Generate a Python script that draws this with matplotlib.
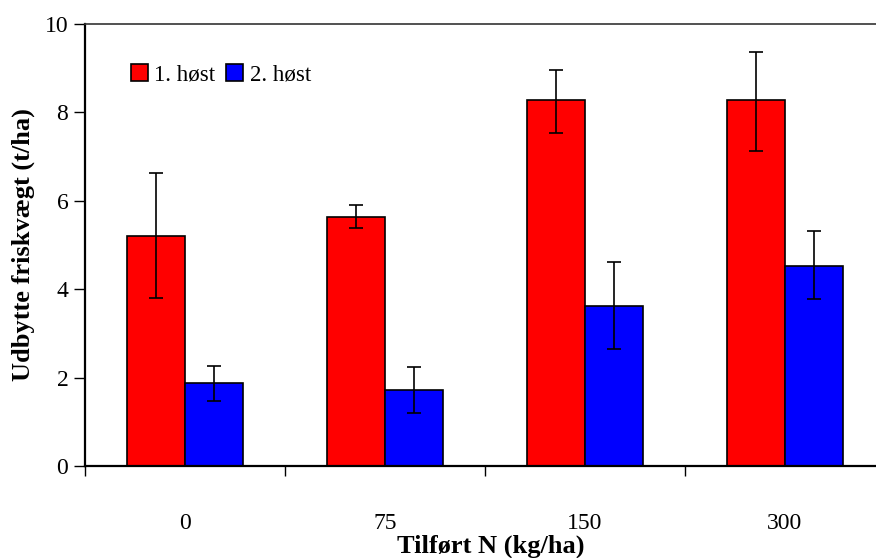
import matplotlib.pyplot as plt
import numpy as np

# Data
doses = ['0', '75', '150', '300']
harvest1 = [5.20, 5.64, 8.28, 8.28]
harvest1_err_hi = [6.63, 5.90, 8.97, 9.37]
harvest1_err_lo = [3.80, 5.38, 7.54, 7.13]
harvest2 = [1.87, 1.72, 3.63, 4.53]
harvest2_err_hi = [2.27, 2.23, 4.62, 5.32]
harvest2_err_lo = [1.46, 1.21, 2.64, 3.77]

plt.rcParams['font.family'] = ['Liberation Serif', 'DejaVu Serif']

fig = plt.figure(figsize=(8.76, 5.58), dpi=100)
ax = fig.add_axes([85 / 876, 1 - 466 / 558, 1 - 85 / 876, (466 - 24) / 558])

x = np.arange(len(doses))
w = 0.29

h1 = np.array(harvest1)
h2 = np.array(harvest2)
err1 = [h1 - np.array(harvest1_err_lo), np.array(harvest1_err_hi) - h1]
err2 = [h2 - np.array(harvest2_err_lo), np.array(harvest2_err_hi) - h2]

ax.bar(x - w / 2, h1, w, color='#ff0000', edgecolor='black', linewidth=1.2,
       label='1. høst', zorder=2)
ax.bar(x + w / 2, h2, w, color='#0000ff', edgecolor='black', linewidth=1.2,
       label='2. høst', zorder=2)
ax.errorbar(x - w / 2, h1, yerr=err1, fmt='none', ecolor='black',
            elinewidth=1.2, capsize=5, capthick=1.2, zorder=3)
ax.errorbar(x + w / 2, h2, yerr=err2, fmt='none', ecolor='black',
            elinewidth=1.2, capsize=5, capthick=1.2, zorder=3)

ax.set_xlim(-0.5, -0.5 + (876 - 85) / 200)
ax.set_ylim(0, 10)
ax.set_yticks([0, 2, 4, 6, 8, 10])

# category boundaries as major ticks, labels as minor ticks at the centres
ax.set_xticks([-0.5, 0.5, 1.5, 2.5])
ax.set_xticklabels([])
ax.set_xticks(x, minor=True)
ax.set_xticklabels(doses, minor=True)
ax.tick_params(axis='x', which='major', direction='out', length=7, width=1)
ax.tick_params(axis='x', which='minor', length=0, pad=34, labelsize=17)
ax.tick_params(axis='y', direction='out', length=8, width=1, labelsize=17, pad=4)

ax.spines['left'].set_linewidth(1.6)
ax.spines['bottom'].set_linewidth(1.6)
ax.spines['top'].set_linewidth(1.2)
ax.spines['top'].set_color('#333333')
ax.spines['right'].set_visible(False)

ax.set_ylabel('Udbytte friskvægt (t/ha)', fontsize=19, fontweight='bold', va='center')
ax.yaxis.set_label_coords((23 - 85) / 791, 0.5)
ax.set_xlabel('Tilført N (kg/ha)', fontsize=19, fontweight='bold', va='center')
ax.xaxis.set_label_coords((491 - 85) / 791, (466 - 546) / 442)

ax.legend(loc='upper left', bbox_to_anchor=(0.058, 0.91), ncol=2, frameon=False,
          fontsize=16.5, handlelength=0.75, handleheight=0.75, handletextpad=0.28,
          columnspacing=0.45, borderaxespad=0, borderpad=0)

fig.savefig('out.png', dpi=100)
